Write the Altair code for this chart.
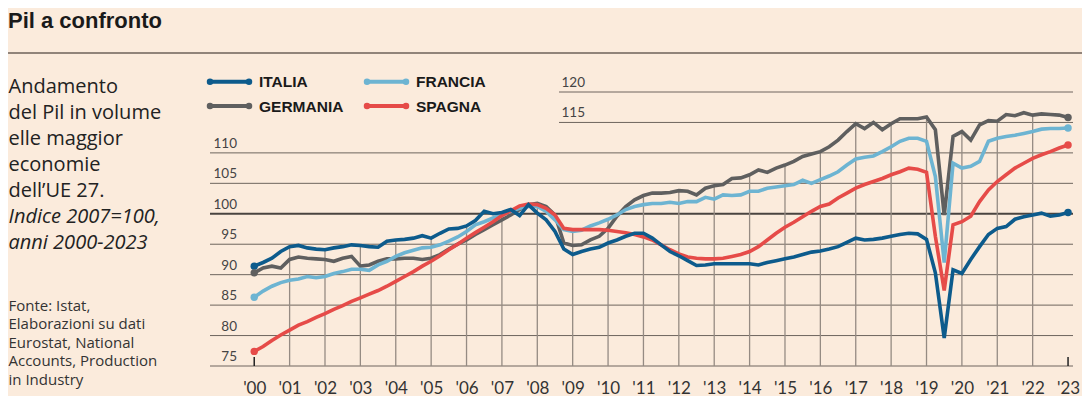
import altair as alt
import pandas as pd

# ---------------- data ----------------
SERIES = ["ITALIA", "FRANCIA", "GERMANIA", "SPAGNA"]
COLORS = ["#0d5b8c", "#6db4d2", "#5f5f5f", "#e64b48"]
YEARS = list(range(2000, 2024))
GRID_LOW = [75, 80, 85, 90, 95, 105, 110]
GRID_REF = [100]
GRID_HIGH = [115, 120]

# quarterly readings, 2000 -> 2023 (93 points)
ITALIA = [91.4, 92.0, 92.7, 93.8, 94.6, 94.8, 94.4, 94.2, 94.1, 94.4,
          94.6, 94.9, 94.8, 94.6, 94.5, 95.5, 95.7, 95.8, 96.0, 96.4,
          96.0, 96.8, 97.5, 97.6, 98.0, 98.9, 100.4, 100.0, 100.2, 100.7,
          99.7, 101.5, 100.1, 99.0, 97.1, 94.2, 93.3, 93.8, 94.2, 94.5,
          95.2, 95.7, 96.3, 96.8, 96.8, 96.0, 94.9, 93.8, 93.1, 92.3,
          91.5, 91.6, 91.8, 91.8, 91.8, 91.8, 91.8, 91.6, 92.0, 92.3,
          92.6, 92.9, 93.3, 93.7, 93.9, 94.2, 94.6, 95.3, 96.0, 95.7,
          95.8, 96.0, 96.3, 96.6, 96.8, 96.7, 95.8, 90.3, 79.6, 90.8,
          90.2, 92.5, 94.6, 96.6, 97.6, 97.9, 99.1, 99.5, 99.8, 100.1,
          99.6, 99.8, 100.2]
GERMANIA = [90.3, 91.1, 91.4, 91.1, 92.5, 92.9, 92.7, 92.6, 92.5, 92.2,
            92.7, 93.0, 91.4, 91.6, 92.2, 92.6, 92.6, 92.7, 92.7, 92.5,
            92.7, 93.3, 94.2, 95.0, 95.7, 96.6, 97.4, 98.2, 99.0, 99.8,
            100.7, 101.5, 101.7, 101.2, 99.8, 95.2, 94.8, 94.9, 95.7, 96.3,
            97.6, 99.6, 101.2, 102.3, 103.0, 103.4, 103.4, 103.5, 103.8, 103.7,
            103.1, 104.2, 104.6, 104.8, 105.8, 105.9, 106.4, 107.2, 106.8, 107.5,
            108.0, 108.6, 109.4, 109.8, 110.2, 111.0, 112.1, 113.5, 114.8, 114.0,
            115.0, 113.8, 114.8, 115.6, 115.6, 115.6, 115.9, 113.8, 99.8, 112.7,
            113.5, 112.1, 114.6, 115.3, 115.2, 116.3, 116.1, 116.6, 116.2, 116.4,
            116.3, 116.2, 115.8]
FRANCIA = [86.3, 87.3, 88.1, 88.7, 89.1, 89.3, 89.7, 89.5, 89.7, 90.2,
           90.5, 90.9, 90.9, 90.7, 91.6, 92.2, 93.0, 93.6, 94.0, 94.4,
           94.5, 94.9, 95.5, 96.2, 97.1, 98.2, 98.7, 99.3, 99.8, 100.4,
           100.9, 101.2, 101.2, 100.4, 99.0, 97.4, 97.1, 97.3, 98.0, 98.5,
           99.1, 99.8, 100.7, 101.2, 101.5, 101.7, 101.7, 101.9, 101.7, 102.0,
           102.0, 102.7, 102.4, 103.1, 103.0, 103.1, 103.7, 103.7, 104.2, 104.4,
           104.6, 104.8, 105.5, 105.0, 105.6, 106.2, 106.9, 108.0, 109.0, 109.3,
           109.5, 110.2, 111.0, 111.9, 112.4, 112.4, 111.9, 106.1, 92.0, 108.3,
           107.5, 107.8, 108.6, 111.9, 112.4, 112.7, 112.9, 113.2, 113.5, 113.9,
           114.0, 114.0, 114.1]
SPAGNA = [77.4, 78.2, 79.2, 80.1, 80.9, 81.7, 82.3, 83.0, 83.6, 84.3,
          84.9, 85.6, 86.2, 86.8, 87.4, 88.1, 88.9, 89.7, 90.5, 91.4,
          92.2, 93.1, 94.1, 95.0, 96.0, 96.9, 97.8, 98.7, 99.7, 100.5,
          101.3, 101.6, 101.5, 100.9, 99.8, 97.6, 97.4, 97.4, 97.4, 97.4,
          97.3, 97.1, 96.9, 96.6, 96.2, 95.7, 94.9, 94.1, 93.4, 92.9,
          92.7, 92.6, 92.6, 92.7, 93.0, 93.3, 93.8, 94.6, 95.7, 96.8,
          97.8, 98.6, 99.5, 100.4, 101.2, 101.6, 102.6, 103.4, 104.2, 104.8,
          105.3, 105.8, 106.4, 106.9, 107.5, 107.3, 106.8, 96.3, 87.4, 98.2,
          98.7, 99.6, 102.0, 103.9, 105.3, 106.4, 107.5, 108.3, 109.1, 109.7,
          110.2, 110.8, 111.3]

DESCR = ["Andamento", "del Pil in volume", "elle maggior", "economie", "dell\u2019UE 27."]
DESCR_IT = ["Indice 2007=100,", "anni 2000-2023"]
FONTE = ["Fonte: Istat,", "Elaborazioni su dati", "Eurostat, National",
         "Accounts, Production", "in Industry"]
TITLE = "Pil a confronto"

# ---------------- tables ----------------
DATA = {"ITALIA": ITALIA, "FRANCIA": FRANCIA, "GERMANIA": GERMANIA, "SPAGNA": SPAGNA}
n = len(ITALIA)
quarters = [YEARS[0] + k / 4 for k in range(n)]
rows = []
for name in SERIES:
    for t, v in zip(quarters, DATA[name]):
        rows.append({"serie": name, "t": t, "v": v})
df = pd.DataFrame(rows)

inner_years = YEARS[1:-1]
vgrid = pd.DataFrame({
    "t": inner_years,
    "top": [max(DATA[s][4 * (y - YEARS[0])] for s in SERIES) for y in inner_years],
})
ends = pd.DataFrame({"t": [YEARS[0], YEARS[-1]]})

W, H = 863, 274
BG = "#fbebdc"
x_scale = alt.Scale(domain=[1998.75, 2023.14], nice=False, zero=False)
y_scale = alt.Scale(domain=[75, 120], nice=False, zero=False)
color_scale = alt.Scale(domain=SERIES, range=COLORS)

x_axis = alt.Axis(
    values=YEARS, labelExpr="\"'\" + substring(toString(datum.value), 2, 4)",
    domain=False, ticks=False, tickSize=0, grid=False, labelPadding=14,
    labelFont="Lato", labelFontSize=17, labelColor="#333333", title=None,
    labelFlush=False, labelOverlap=False,
)


def X(field="t"):
    return alt.X(f"{field}:Q", scale=x_scale, axis=x_axis)


def Y(field="v"):
    return alt.Y(f"{field}:Q", scale=y_scale, axis=None)


one = alt.Data(values=[{"a": 1}])

layers = []

# horizontal gridlines
layers.append(alt.Chart(pd.DataFrame({"v": GRID_LOW})).mark_rule(
    color="#6e655e", strokeWidth=1).encode(y=Y(), x=alt.value(0), x2=alt.value(W)))
layers.append(alt.Chart(pd.DataFrame({"v": GRID_HIGH})).mark_rule(
    color="#6e655e", strokeWidth=1).encode(y=Y(), x=alt.value(349), x2=alt.value(W)))
layers.append(alt.Chart(pd.DataFrame({"v": GRID_REF})).mark_rule(
    color="#4a4440", strokeWidth=2).encode(y=Y(), x=alt.value(0), x2=alt.value(W)))

# vertical gridlines up to the highest series
layers.append(alt.Chart(vgrid).mark_rule(color="#958b83", strokeWidth=1.3).encode(
    x=X(), y=Y("top"), y2=alt.value(H)))

# ticks at first and last year
layers.append(alt.Chart(ends).mark_rule(color="#222222", strokeWidth=1.5).encode(
    x=X(), y=alt.value(H - 9), y2=alt.value(H)))

# y labels
layers.append(alt.Chart(pd.DataFrame({"v": GRID_LOW + GRID_REF})).mark_text(
    align="right", baseline="alphabetic", dy=-5, font="Lato", fontSize=13.5,
    color="#444444").encode(y=Y(), x=alt.value(27), text=alt.Text("v:Q")))
layers.append(alt.Chart(pd.DataFrame({"v": GRID_HIGH})).mark_text(
    align="left", baseline="alphabetic", dy=-5, font="Lato", fontSize=13.5,
    color="#444444").encode(y=Y(), x=alt.value(351.5), text=alt.Text("v:Q")))

# series lines (draw order: Germania, Francia, Spagna, Italia)
for name in ["GERMANIA", "FRANCIA", "SPAGNA", "ITALIA"]:
    layers.append(alt.Chart(df).transform_filter(alt.datum.serie == name).mark_line(
        strokeWidth=3.6).encode(
        x=X(), y=Y(), color=alt.Color("serie:N", scale=color_scale, legend=None)))

# end dots
layers.append(alt.Chart(df).transform_filter(
    f"datum.t == {YEARS[0]} || datum.t == {YEARS[-1]}").mark_circle(size=55, opacity=1).encode(
    x=X(), y=Y(), color=alt.Color("serie:N", scale=color_scale, legend=None)))

# legend (manual, dot-ended lines)
LEG = [("ITALIA", 0, -10.3), ("FRANCIA", 157, -10.3), ("GERMANIA", 0, 14), ("SPAGNA", 157, 14)]
for name, lx, ly in LEG:
    col = COLORS[SERIES.index(name)]
    layers.append(alt.Chart(one).mark_rule(color=col, strokeWidth=4).encode(
        x=alt.value(lx), x2=alt.value(lx + 39), y=alt.value(ly)))
    layers.append(alt.Chart(one).mark_circle(color=col, size=42, opacity=1).encode(
        x=alt.value(lx), y=alt.value(ly)))
    layers.append(alt.Chart(one).mark_circle(color=col, size=42, opacity=1).encode(
        x=alt.value(lx + 39), y=alt.value(ly)))
    layers.append(alt.Chart(one).mark_text(
        text=name, align="left", baseline="alphabetic", font="Liberation Sans",
        fontWeight="bold", fontSize=15.5, color="#1a1a1a").encode(
        x=alt.value(lx + 49), y=alt.value(ly + 5.6)))

# title, rule, descriptions
layers.append(alt.Chart(one).mark_text(
    text=TITLE, align="left", baseline="alphabetic", font="Liberation Sans",
    fontWeight="bold", fontSize=22, color="#1a1a1a").encode(
    x=alt.value(-202), y=alt.value(-64.5)))
layers.append(alt.Chart(one).mark_rule(color="#6e625a", strokeWidth=1.5).encode(
    x=alt.value(-205), x2=alt.value(W + 12), y=alt.value(-39)))
layers.append(alt.Chart(one).mark_text(
    text=DESCR, align="left", baseline="alphabetic", font="Open Sans",
    fontSize=20, lineHeight=26, color="#222222").encode(
    x=alt.value(-201.5), y=alt.value(1.3)))
layers.append(alt.Chart(one).mark_text(
    text=DESCR_IT, align="left", baseline="alphabetic", font="Open Sans",
    fontStyle="italic", fontSize=20, lineHeight=26, color="#222222").encode(
    x=alt.value(-201.5), y=alt.value(131.3)))
layers.append(alt.Chart(one).mark_text(
    text=FONTE, align="left", baseline="alphabetic", font="Open Sans",
    fontSize=15, lineHeight=18.5, color="#333333").encode(
    x=alt.value(-201.5), y=alt.value(218.7)))

chart = alt.layer(*layers).properties(
    width=W, height=H,
    padding={"left": 202, "top": 84, "right": 9, "bottom": 30},
    autosize=alt.AutoSizeParams(type="none"),
    background=BG,
).configure_view(stroke=None)

chart.save("out.html", embed_options={"renderer": "svg", "actions": False})
